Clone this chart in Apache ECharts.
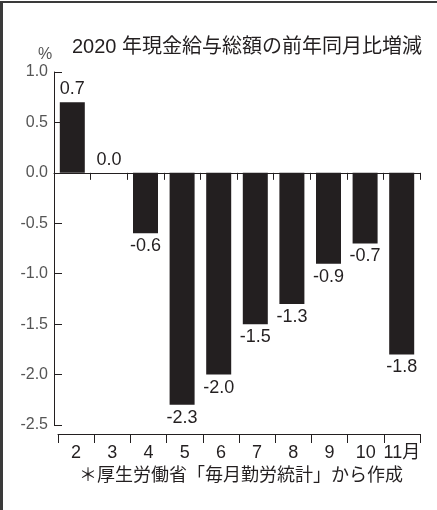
<!DOCTYPE html>
<html>
<head>
<meta charset="utf-8">
<script src="https://cdn.jsdelivr.net/npm/echarts@6/dist/echarts.min.js"></script>
<style>
  html, body { margin: 0; padding: 0; background: #fff; }
  #chart {
    width: 437px;
    height: 510px;
    box-sizing: border-box;
    border-top: 2px solid #3a3a3a;
    border-left: 3px solid #3a3a3a;
    margin-top: 1px;
  }
</style>
</head>
<body>
<div id="chart"></div>
<script>
// 月
const months = ['2', '3', '4', '5', '6', '7', '8', '9', '10', '11月'];
// 前年同月比（%）
const changes = [0.7, 0.0, -0.6, -2.3, -2.0, -1.5, -1.3, -0.9, -0.7, -1.8];

const titleText = '2020 年現金給与総額の前年同月比増減';
const sourceText = '＊厚生労働省「毎月勤労統計」から作成';

const font = '"Liberation Sans", "Noto Sans CJK JP", sans-serif';
const ink = '#231f20';

const chart = echarts.init(document.getElementById('chart'), null, {renderer: 'canvas'});
chart.setOption({
  animation: false,
  textStyle: {fontFamily: font},
  graphic: [
    {type: 'text', left: 69, top: 34, style: {text: titleText, font: '20px ' + font, fill: ink}},
    {type: 'text', left: 35, top: 44, style: {text: '%', font: '16px ' + font, fill: '#555'}},
    {type: 'text', left: 76, top: 464, style: {text: sourceText, font: '18px ' + font, fill: ink}}
  ],
  grid: [
    {left: 51, right: 17, top: 69, bottom: 86},
    {left: 55, right: 17, top: 69, bottom: 77}
  ],
  xAxis: [
    {
      type: 'category',
      gridIndex: 0,
      data: months,
      axisLine: {onZero: true, lineStyle: {color: ink, width: 1}},
      axisTick: {show: true, interval: 0, length: 7, lineStyle: {color: ink}},
      axisLabel: {show: false}
    },
    {
      type: 'category',
      gridIndex: 1,
      data: months,
      position: 'bottom',
      axisLine: {onZero: false, lineStyle: {color: ink, width: 1}},
      axisTick: {show: true, interval: 0, length: 9, lineStyle: {color: ink}},
      axisLabel: {interval: 0, color: ink, fontSize: 18, margin: 10, fontFamily: font}
    }
  ],
  yAxis: [
    {
      type: 'value',
      gridIndex: 0,
      min: -2.5,
      max: 1.0,
      interval: 0.5,
      axisLine: {show: true, lineStyle: {color: ink, width: 1}},
      axisTick: {show: true, inside: true, length: 8, lineStyle: {color: ink}},
      splitLine: {show: false},
      axisLabel: {
        color: '#555',
        fontSize: 16,
        margin: 6,
        fontFamily: font,
        formatter: v => v.toFixed(1)
      }
    },
    {type: 'value', gridIndex: 1, show: false}
  ],
  series: [{
    type: 'bar',
    xAxisIndex: 0,
    yAxisIndex: 0,
    barWidth: 25,
    itemStyle: {color: ink},
    data: changes.map(v => ({
      value: v,
      label: {position: v < 0 ? 'bottom' : 'top'}
    })),
    label: {
      show: true,
      color: ink,
      fontSize: 18,
      fontFamily: font,
      distance: 4,
      formatter: p => p.value.toFixed(1)
    }
  }]
});
</script>
</body>
</html>
